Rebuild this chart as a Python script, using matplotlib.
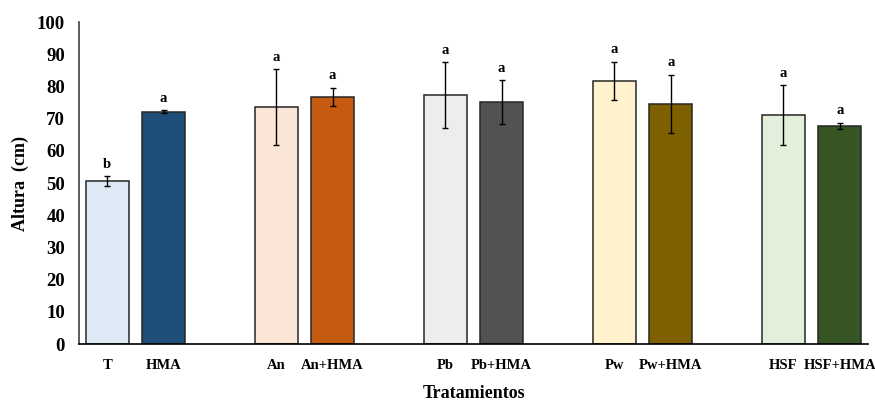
import matplotlib
matplotlib.use("Agg")
import matplotlib.pyplot as plt
import numpy as np

categories = ["T", "HMA", "An", "An+HMA", "Pb", "Pb+HMA", "Pw", "Pw+HMA", "HSF", "HSF+HMA"]
values = [50.6, 72.1, 73.6, 76.7, 77.3, 75.1, 81.7, 74.6, 71.0, 67.7]
errors = [1.5, 0.5, 11.8, 2.9, 10.2, 6.8, 6.0, 9.0, 9.3, 1.0]
letters = ["b", "a", "a", "a", "a", "a", "a", "a", "a", "a"]
colors = ["#DEEBF7", "#1F4E79", "#FBE5D6", "#C55A11", "#EDEDED",
          "#525252", "#FFF2CC", "#7F6000", "#E2EFDA", "#375623"]
positions = [0, 1, 3, 4, 6, 7, 9, 10, 12, 13]

plt.rcParams['font.family'] = ['Liberation Serif', 'DejaVu Serif']
plt.rcParams['font.weight'] = 'bold'

fig = plt.figure(figsize=(8.75, 4.01), dpi=100)
ax = fig.add_axes([0.0903, 0.1421, 0.9017, 0.8029])

ax.bar(positions, values, width=0.76, color=colors, edgecolor="#262626",
       linewidth=1.1, zorder=2)
ax.errorbar(positions, values, yerr=errors, fmt="none", ecolor="black",
            elinewidth=1.0, capsize=2.5, capthick=1.0, zorder=3)

for x, v, e, l in zip(positions, values, errors, letters):
    ax.annotate(l, (x, v + e), xytext=(0, 4), textcoords="offset points",
                ha="center", va="bottom", fontsize=10.5, fontweight="bold")

ax.set_xlim(-0.5, 13.5)
ax.set_ylim(0, 100)
ax.set_yticks(np.arange(0, 101, 10))
ax.set_xticks(positions)
ax.set_xticklabels(categories, fontsize=10.5, fontweight="bold")
ax.tick_params(axis="x", length=0, pad=11)
ax.tick_params(axis="y", length=0, pad=10, labelsize=13.5)
for lab in ax.get_yticklabels():
    lab.set_fontweight("bold")

for s in ["top", "right"]:
    ax.spines[s].set_visible(False)
ax.spines["left"].set_color("#404040")
ax.spines["bottom"].set_color("black")
ax.spines["left"].set_linewidth(1.2)
ax.spines["bottom"].set_linewidth(1.2)

ax.set_ylabel("Altura  (cm)", fontsize=13, fontweight="bold", labelpad=6)
ax.set_xlabel("Tratamientos", fontsize=13, fontweight="bold", labelpad=9)

fig.savefig("out.png", dpi=100)
